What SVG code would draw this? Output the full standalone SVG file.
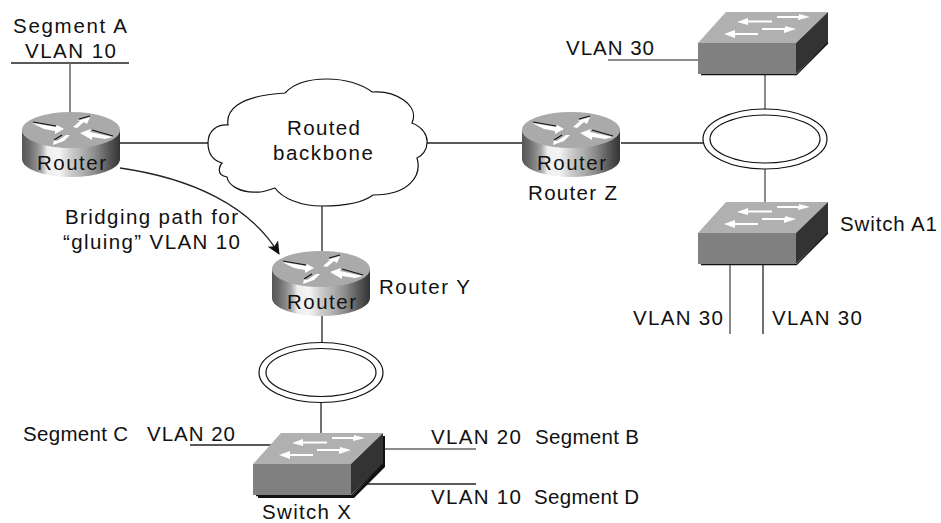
<svg xmlns="http://www.w3.org/2000/svg" width="941" height="523" viewBox="0 0 941 523">
<style>
text{font-family:"Liberation Sans",Arial,sans-serif;font-size:20.5px;fill:#111}
.c{fill:none;stroke:#222;stroke-width:1.3}
.g{fill:none;stroke:#666;stroke-width:1.5}
.ring{fill:#fff;stroke:#111;stroke-width:1.2}
.sh{fill:none;stroke:#111;stroke-width:1.2}
</style>
<defs>
<linearGradient id="cyl" x1="0" x2="1" y1="0" y2="0">
<stop offset="0" stop-color="#555"/><stop offset=".07" stop-color="#6a6a6a"/><stop offset=".14" stop-color="#888"/><stop offset=".2" stop-color="#aaa"/><stop offset=".26" stop-color="#eee"/><stop offset=".38" stop-color="#f4f4f4"/><stop offset=".5" stop-color="#ccc"/><stop offset=".62" stop-color="#b0b0b0"/><stop offset=".75" stop-color="#8a8a8a"/><stop offset=".88" stop-color="#5a5a5a"/><stop offset="1" stop-color="#333"/>
</linearGradient>
<marker id="ah" markerWidth="14" markerHeight="14" refX="12" refY="6.500" orient="auto" markerUnits="userSpaceOnUse"><path d="M0,0.500L13,6.500L0,12.500L3,6.500Z" fill="#111"/></marker>
<g id="router">
<path d="M22,130V159A49,18 0 0 0 120,159V130Z" fill="url(#cyl)"/>
<ellipse cx="71" cy="130" rx="49" ry="18" fill="#aaa"/>
<g fill="#fff">
<path d="M32,123L56,127L57,125L64,129L55,134L55,131L44,129Z"/>
<path d="M73,127L80,121L77,121L90,117L87,124L84,122L77,128Z"/>
<path d="M53,145L54,140L57,141L66,135L70,135L64,141L61,142Z"/>
<path d="M80,133L91,129L90,132L113,137L105,139L92,137L92,140Z"/>
</g>
<path d="M33,122L56,126M79,119L90,116M54,140L62,135M92,130L113,136" fill="none" stroke="#111" stroke-width="1.200"/>
</g>
<g id="switch">
<path d="M698,43L726,12H828L796,43Z" fill="#b0b0b0"/>
<rect x="698" y="43" width="98" height="31" fill="#808080"/>
<path d="M796,43L828,12V43L796,74Z" fill="#333"/>
<path class="sh" d="M701,74.600H796.500L828,43"/>
<g fill="#fff">
<path d="M737,22L748,18V20.500H772V22.500H748V25Z"/>
<path d="M777,16H799V14L810,17L798,20V18H777Z"/>
<path d="M724,34L735,30V33H758V35H735V38Z"/>
<path d="M762,28H785V26L796,29L784,33V30H762Z"/>
</g>
</g>
</defs>
<g id="connectors">
<path class="c" d="M11,63H129"/>
<path class="g" d="M70,63V112"/>
<path class="c" d="M119,143H208"/>
<path class="c" d="M120,168C190,178 250,205 279,254" marker-end="url(#ah)"/>
<path class="c" d="M322,206V251"/>
<path class="c" d="M427,143H522"/>
<path class="c" d="M322,316V343"/>
<path class="c" d="M321,402V433"/>
<path class="c" d="M621,143H710"/>
<path class="g" d="M608,60H698"/>
<path class="g" d="M765,74V109"/>
<path class="g" d="M765,169V202"/>
<path class="g" d="M730,264V334"/>
<path class="c" d="M763,264V334"/>
<path class="c" d="M190,445H277"/>
<path class="g" d="M385,449H476"/>
<path class="c" d="M366,484H476"/>
</g>
<g id="segA"><text x="13" y="33" textLength="114">Segment A</text><text x="25" y="58" textLength="91">VLAN 10</text></g>
<g id="routerA"><use href="#router"/><text x="37" y="170" textLength="69">Router</text></g>
<g id="cloud"><path d="M208,143C208,130 218,124 228,125C226,112 235,96 285,93C295,82 312,79 327,79C345,79 362,84 372,92C395,90 420,105 412,123C422,127 428,135 427,143C427,150 422,156 417,158C422,175 410,195 373,195C360,205 335,206 322,206C300,206 282,198 275,188C268,190 262,193 257,192C240,193 228,185 227,177C215,175 220,165 222,163C212,160 208,152 208,143Z" fill="#fff" stroke="#111" stroke-width="1.2"/><text x="287" y="135" textLength="73">Routed</text><text x="273" y="160" textLength="100">backbone</text></g>
<g id="bridgeLabel"><text x="65" y="224" textLength="173">Bridging path for</text><text x="63" y="249" textLength="177">“gluing” VLAN 10</text></g>
<g id="routerY"><use href="#router" x="250" y="139"/><text x="287" y="309" textLength="69">Router</text><text x="379" y="294" textLength="91">Router Y</text></g>
<g id="routerZ"><use href="#router" x="500" y="0"/><text x="537" y="170" textLength="69">Router</text><text x="528" y="199.500" textLength="89">Router Z</text></g>
<g id="ringTop"><ellipse class="ring" cx="765" cy="139" rx="62" ry="30"/><ellipse class="ring" cx="765" cy="139" rx="55" ry="24"/></g>
<g id="switchTop"><use href="#switch"/><text x="566" y="55" textLength="88">VLAN 30</text></g>
<g id="switchA1"><use href="#switch" y="190"/><text x="840" y="231" textLength="97">Switch A1</text></g>
<g id="vlan30a"><text x="633" y="325" textLength="90">VLAN 30</text></g>
<g id="vlan30b"><text x="772" y="325" textLength="90">VLAN 30</text></g>
<g id="ringBottom"><ellipse class="ring" cx="321" cy="372.500" rx="62" ry="30"/><ellipse class="ring" cx="321" cy="372.500" rx="55" ry="24"/></g>
<g id="switchX"><use href="#switch" x="-445" y="421"/><path d="M258,498H354L385,467V436H383V464L353,495H258Z" fill="#111"/><text x="262" y="518.500" textLength="89">Switch X</text></g>
<g id="labels"><text x="23" y="441" textLength="105">Segment C</text><text x="147" y="441" textLength="88">VLAN 20</text><text x="431" y="444" textLength="90">VLAN 20</text><text x="535" y="444" textLength="104">Segment B</text><text x="431" y="504" textLength="90">VLAN 10</text><text x="534" y="504" textLength="105">Segment D</text></g>
</svg>
